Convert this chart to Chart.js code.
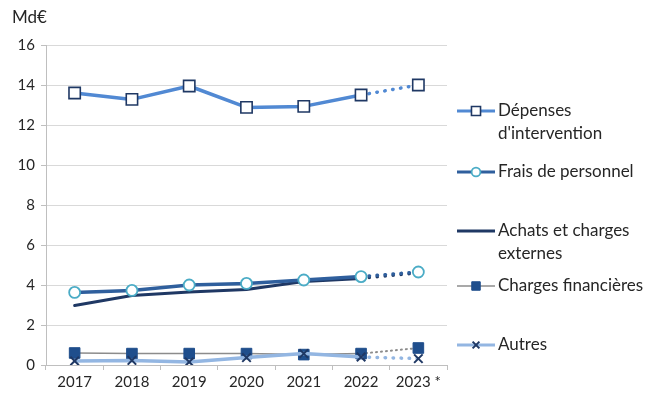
<!DOCTYPE html>
<html>
<head>
<meta charset="utf-8">
<script src="https://cdn.jsdelivr.net/npm/chart.js@4"></script>
<style>
  html, body { margin: 0; padding: 0; background: #ffffff; }
  #wrap { width: 649px; height: 394px; position: relative; }
</style>
</head>
<body>
<div id="wrap"><canvas id="c" width="649" height="394"></canvas></div>
<script>
// Years (2023 is a forecast, drawn with a dotted final segment)
const years = ['2017', '2018', '2019', '2020', '2021', '2022', '2023 *'];

// Values in billions of euros
const depensesIntervention = [13.6, 13.28, 13.95, 12.88, 12.93, 13.5, 14.0];
const fraisPersonnel       = [3.63, 3.73, 4.0, 4.08, 4.25, 4.42, 4.65];
const achatsChargesExt     = [2.97, 3.47, 3.65, 3.77, 4.17, 4.33, 4.6];
const chargesFinancieres   = [0.6, 0.57, 0.57, 0.57, 0.52, 0.57, 0.85];
const autres               = [0.2, 0.23, 0.15, 0.37, 0.57, 0.4, 0.32];

// Legend text, one entry per series (multi-line where it wraps)
const seriesNames = [
  ['Dépenses', "d'intervention"],
  ['Frais de personnel'],
  ['Achats et charges', 'externes'],
  ['Charges financières'],
  ['Autres']
];

const yTicks = { min: 0, max: 16, step: 2 };
const unitLabel = 'Md€';

const FONT = 'Lato, "Open Sans", sans-serif';
const TEXT = '#262626';

// last segment (2022 → 2023) is a forecast: dotted
function forecastDash(dash) {
  return ctx => (ctx.p1DataIndex === years.length - 1 ? dash : undefined);
}

const datasets = [
  {
    label: seriesNames[0], data: depensesIntervention,
    borderColor: '#5189d3', borderWidth: 3.5,
    pointStyle: 'rect', pointRadius: 8, pointBorderWidth: 1.6,
    pointBackgroundColor: '#ffffff', pointBorderColor: '#1f3864',
    legendY: 111, order: 1
  },
  {
    label: seriesNames[1], data: fraisPersonnel,
    borderColor: '#2f5f9d', borderWidth: 3.5,
    pointStyle: 'circle', pointRadius: 5.5, pointBorderWidth: 1.8,
    pointBackgroundColor: '#ffffff', pointBorderColor: '#4bacc6',
    legendY: 172, order: 2
  },
  {
    label: seriesNames[2], data: achatsChargesExt,
    borderColor: '#1f3864', borderWidth: 3,
    pointStyle: false, pointRadius: 0,
    legendY: 231, order: 3
  },
  {
    label: seriesNames[3], data: chargesFinancieres,
    borderColor: '#8c8c8c', borderWidth: 1.5,
    pointStyle: 'rect', pointRadius: 7.5, pointBorderWidth: 1,
    pointBackgroundColor: '#1f4e8c', pointBorderColor: '#1f4e8c',
    dotted: [1, 4], dotWidth: 2,
    legendY: 286, order: 5
  },
  {
    label: seriesNames[4], data: autres,
    borderColor: '#93b6e2', borderWidth: 3.5,
    pointStyle: 'crossRot', pointRadius: 6, pointBorderWidth: 2,
    pointBackgroundColor: '#1f3864', pointBorderColor: '#1f3864',
    legendY: 345, order: 4
  }
];

datasets.forEach(ds => {
  ds.fill = false;
  ds.tension = 0;
  ds.borderCapStyle = 'round';
  ds.borderJoinStyle = 'round';
  ds.pointHoverRadius = ds.pointRadius;
  const dash = ds.dotted || [0.5, 7.5];
  const w = ds.dotWidth;
  ds.segment = {
    borderDash: forecastDash(dash),
    borderWidth: w ? (ctx => (ctx.p1DataIndex === years.length - 1 ? w : undefined)) : undefined
  };
});

// Legend on the right, plus the unit label above the value axis
const sideLegend = {
  id: 'sideLegend',
  afterDraw(chart) {
    const ctx = chart.ctx;
    ctx.save();
    ctx.font = '17px ' + FONT;
    ctx.fillStyle = TEXT;
    ctx.textBaseline = 'middle';
    ctx.textAlign = 'left';
    ctx.fillText(unitLabel, 12, 18);

    const x0 = 457, x1 = 495, xm = (x0 + x1) / 2;
    chart.data.datasets.forEach(ds => {
      const y = ds.legendY;
      ctx.strokeStyle = ds.borderColor;
      ctx.lineWidth = Math.min(ds.borderWidth, 3);
      ctx.lineCap = 'butt';
      ctx.setLineDash([]);
      ctx.beginPath();
      ctx.moveTo(x0, y);
      ctx.lineTo(x1, y);
      ctx.stroke();
      if (ds.pointStyle) {
        ctx.fillStyle = ds.pointBackgroundColor;
        ctx.strokeStyle = ds.pointBorderColor;
        ctx.lineWidth = ds.pointBorderWidth;
        Chart.helpers.drawPoint(ctx, {
          pointStyle: ds.pointStyle,
          radius: ds.pointRadius * 0.8,
          rotation: 0,
          borderWidth: ds.pointBorderWidth
        }, xm, y);
      }
      ctx.fillStyle = TEXT;
      ctx.font = '17px ' + FONT;
      ds.label.forEach((line, i) => {
        ctx.fillText(line, x1 + 3, y + i * 23);
      });
    });
    ctx.restore();
  }
};

new Chart(document.getElementById('c'), {
  type: 'line',
  data: { labels: years, datasets },
  options: {
    responsive: false,
    animation: false,
    devicePixelRatio: 1,
    layout: { padding: { top: 45, right: 202, bottom: 0, left: 0 } },
    plugins: {
      legend: { display: false },
      tooltip: { enabled: false },
      title: { display: false }
    },
    scales: {
      x: {
        offset: true,
        grid: {
          offset: true,
          drawOnChartArea: false,
          drawTicks: true,
          tickLength: 5,
          color: '#bfbfbf'
        },
        border: { display: true, color: '#bfbfbf', width: 1 },
        ticks: {
          color: TEXT,
          font: { family: FONT, size: 15 },
          padding: 3,
          maxRotation: 0,
          autoSkip: false
        },
        afterFit(scale) { scale.height = 29; }
      },
      y: {
        min: yTicks.min,
        max: yTicks.max,
        grid: {
          color: '#d9d9d9',
          lineWidth: 1,
          drawTicks: true,
          tickLength: 5,
          tickColor: '#bfbfbf'
        },
        border: { display: true, color: '#bfbfbf', width: 1 },
        ticks: {
          stepSize: yTicks.step,
          color: TEXT,
          font: { family: FONT, size: 15 },
          padding: 6
        },
        afterFit(scale) { scale.width = 46; }
      }
    }
  },
  plugins: [sideLegend]
});
</script>
</body>
</html>
